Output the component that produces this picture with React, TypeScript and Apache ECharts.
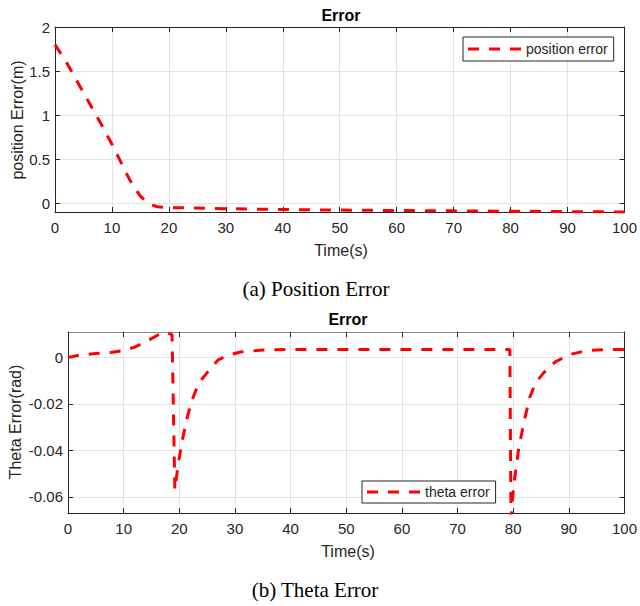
import React, { useEffect, useRef } from "react";
import * as echarts from "echarts";

// Position error over time (s, m)
const positionTime = [0, 2, 4, 6, 8, 10, 12, 13, 14, 15, 16, 17, 18, 20, 30, 40, 50, 60, 70, 80, 90, 100];
const positionError = [1.8, 1.6, 1.37, 1.14, 0.91, 0.67, 0.41, 0.28, 0.17, 0.08, 0.02, -0.02, -0.04, -0.05, -0.062, -0.072, -0.078, -0.083, -0.087, -0.091, -0.096, -0.1];

// Heading (theta) error over time (s, rad)
const thetaTime = [0, 2, 5, 8, 10, 12, 14, 16, 17.5, 18.7, 19.2, 19.8, 20.5, 21.5, 22.5, 23.5, 25, 27, 28.5, 31, 35, 40, 79.4, 79.6, 80.1, 81, 82, 83, 84, 85.5, 87.5, 90, 93, 96, 100];
const thetaError = [0, 0.001, 0.0017, 0.0023, 0.003, 0.0045, 0.0068, 0.0095, 0.011, 0.0098, -0.057, -0.046, -0.036, -0.025, -0.017, -0.011, -0.0065, -0.001, 0.0008, 0.0024, 0.0032, 0.0035, 0.0035, -0.069, -0.055, -0.039, -0.027, -0.017, -0.011, -0.0065, -0.002, 0.0012, 0.0029, 0.0034, 0.0035];

const positionTicks = [0, 0.5, 1, 1.5, 2];
const thetaTicks = [-0.06, -0.04, -0.02, 0];

const SANS = "'Liberation Sans', Arial, Helvetica, sans-serif";
const SERIF = "'Liberation Serif', 'Times New Roman', serif";
const INK = "#262626";
const GRID = "#e3e3e3";
const RED = "#ff0000";

// three-dash legend key (11 on, 10 off)
const DASH_ICON = "path://M0,0h11v3h-11z M21,0h11v3h-11z M42,0h11v3h-11z";

const zip = (xs: number[], ys: number[]) => xs.map((x, i) => [x, ys[i]]);

const fmt = (v: number) => String(Math.round(v * 1000) / 1000);

function xAxes(gridIndex: number, topColor: string) {
  return [
    {
      gridIndex,
      type: "value",
      min: 0,
      max: 100,
      interval: 10,
      position: "bottom",
      axisLine: { show: true, onZero: false, lineStyle: { color: INK, width: 1 } },
      axisTick: { show: true, inside: true, length: 5, lineStyle: { color: INK } },
      axisLabel: { margin: 8, color: INK, fontSize: 15, fontFamily: SANS },
      splitLine: { show: true, lineStyle: { color: GRID, width: 1 } },
    },
    {
      gridIndex,
      type: "value",
      min: 0,
      max: 100,
      interval: 10,
      position: "top",
      axisLine: { show: true, onZero: false, lineStyle: { color: topColor, width: 1 } },
      axisTick: { show: true, inside: true, length: 5, lineStyle: { color: INK } },
      axisLabel: { show: false },
      splitLine: { show: false },
    },
  ];
}

function yAxes(gridIndex: number, min: number, max: number, ticks: number[]) {
  return [
    {
      gridIndex,
      type: "value",
      min,
      max,
      position: "left",
      axisLine: { show: true, onZero: false, lineStyle: { color: INK, width: 1 } },
      axisTick: { show: true, inside: true, length: 5, customValues: ticks, lineStyle: { color: INK } },
      axisLabel: { margin: 5, color: INK, fontSize: 15, fontFamily: SANS, customValues: ticks, formatter: fmt },
      splitLine: { show: true, lineStyle: { color: GRID, width: 1 } },
    },
    {
      gridIndex,
      type: "value",
      min,
      max,
      position: "right",
      axisLine: { show: true, onZero: false, lineStyle: { color: INK, width: 1 } },
      axisTick: { show: true, inside: true, length: 5, customValues: ticks, lineStyle: { color: INK } },
      axisLabel: { show: false, customValues: ticks },
      splitLine: { show: false },
    },
  ];
}

function label(text: string, x: number, y: number, font: string, fill: string, rotation = 0) {
  return {
    type: "text",
    x,
    y,
    rotation,
    z: 100,
    style: { text, font, fill, align: "center", verticalAlign: "middle" },
  };
}

export default function App() {
  const ref = useRef<HTMLDivElement>(null);

  useEffect(() => {
    if (!ref.current) return;
    const chart = echarts.init(ref.current, null, { renderer: "svg" });

    const lineStyle = { color: RED, width: 3, type: [11, 10] as number[] };
    const legendBase = {
      orient: "horizontal",
      borderColor: INK,
      borderWidth: 1,
      borderRadius: 0,
      backgroundColor: "#ffffff",
      icon: DASH_ICON,
      itemWidth: 53,
      itemHeight: 3,
      textStyle: { fontSize: 14, color: INK, fontFamily: SANS },
    };

    chart.setOption({
      animation: false,
      backgroundColor: "#ffffff",
      grid: [
        { left: 55, top: 27, right: 12, height: 185 },
        { left: 68, top: 332, right: 12, height: 181 },
      ],
      xAxis: [...xAxes(0, INK), ...xAxes(1, "#8c8c8c")],
      yAxis: [...yAxes(0, -0.1, 2, positionTicks), ...yAxes(1, -0.067, 0.011, thetaTicks)],
      legend: [
        { ...legendBase, data: ["position error"], left: 463, top: 37, padding: [5, 6, 5, 5] },
        { ...legendBase, data: ["theta error"], left: 362, top: 481, padding: [4, 6, 4, 5] },
      ],
      series: [
        {
          name: "position error",
          type: "line",
          xAxisIndex: 0,
          yAxisIndex: 0,
          showSymbol: false,
          symbol: "none",
          lineStyle,
          itemStyle: { color: RED },
          data: zip(positionTime, positionError),
        },
        {
          name: "theta error",
          type: "line",
          xAxisIndex: 2,
          yAxisIndex: 2,
          showSymbol: false,
          symbol: "none",
          lineStyle,
          itemStyle: { color: RED },
          data: zip(thetaTime, thetaError),
        },
      ],
      graphic: [
        label("Error", 341, 15, `bold 16px ${SANS}`, "#000"),
        label("Time(s)", 341, 250, `16px ${SANS}`, INK),
        label("position Error(m)", 17, 120, `16px ${SANS}`, INK, Math.PI / 2),
        label("(a) Position Error", 316, 289, `21px ${SERIF}`, "#000"),
        label("Error", 348, 319, `bold 16px ${SANS}`, "#000"),
        label("Time(s)", 348, 551, `16px ${SANS}`, INK),
        label("Theta Error(rad)", 15, 422, `16px ${SANS}`, INK, Math.PI / 2),
        label("(b) Theta Error", 315, 590, `21px ${SERIF}`, "#000"),
      ],
    });

    return () => chart.dispose();
  }, []);

  return (
    <div
      ref={ref}
      style={{ position: "absolute", left: 0, top: 0, width: 640, height: 606 }}
    />
  );
}
